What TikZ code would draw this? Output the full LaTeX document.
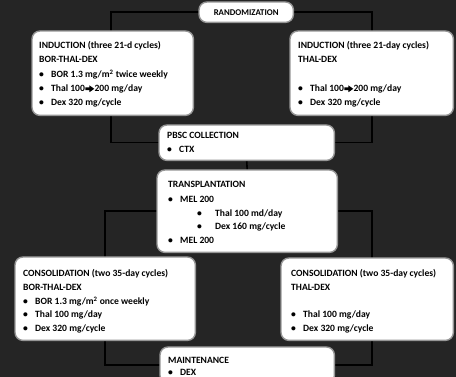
\documentclass[tikz,border=0pt]{standalone}
\usepackage{fontspec}
\setmainfont{Carlito}[BoldFont={Carlito Bold}]
\definecolor{bg}{RGB}{37,37,37}
\definecolor{edge}{RGB}{150,150,150}
\newcommand\bl[1]{\makebox[12pt][l]{•}#1}
\newcommand\sbl[1]{\makebox[18pt][l]{•}#1}
\newcommand\arr{\kern0.3pt\tikz[x=1pt,y=1pt,baseline=0pt]\fill[black] (0,1.9) -- (4.2,1.9) -- (4.2,-0.2) -- (9,3.2) -- (4.2,6.6) -- (4.2,4.5) -- (0,4.5) -- cycle;\kern0.3pt}
\begin{document}
\begin{tikzpicture}[x=1pt,y=-1pt,
  box/.style={draw=none, fill=none, anchor=north west, inner sep=0pt},
  panel/.style={draw=edge, line width=1.4pt, fill=white, rounded corners=8pt},
  txt/.style={anchor=base west, inner sep=0pt, font=\fontsize{9.6}{11}\selectfont\bfseries, text=black},
  link/.style={draw=black, line width=1.6pt}]
\useasboundingbox (0,0) rectangle (456,377);
\fill[bg] (0,0) rectangle (456,377);
\clip (0,0) rectangle (456,377);

% box placeholders (names)
\path node[box, minimum width=94pt, minimum height=20pt] (rand) at (199,2) {}
      node[box, minimum width=161pt, minimum height=84pt] (ind1) at (32,31) {}
      node[box, minimum width=163pt, minimum height=84pt] (ind2) at (290,31) {}
      node[box, minimum width=175pt, minimum height=35pt] (pbsc) at (159,125) {}
      node[box, minimum width=180pt, minimum height=82pt] (trans) at (157,170) {}
      node[box, minimum width=180pt, minimum height=83pt] (cons1) at (15,257) {}
      node[box, minimum width=172pt, minimum height=82pt] (cons2) at (281,258) {}
      node[box, minimum width=174pt, minimum height=36pt] (maint) at (160,347) {};

% connectors
\draw[link] (rand.west) -| ([xshift=-2pt]ind1.north);
\draw[link] (rand.east) -| (ind2.north);
\draw[link] ([xshift=-2pt]ind1.south) |- (pbsc.west);
\draw[link] (ind2.south) |- (pbsc.east);
\draw[link] (pbsc.south) -- (trans.north);
\draw[link] (trans.west) -| (cons1.north);
\draw[link] (trans.east) -| ([xshift=5pt]cons2.north);
\draw[link] (cons1.south) |- (maint.west);
\draw[link] ([xshift=5pt]cons2.south) |- (maint.east);

% visible boxes
\foreach \n in {rand,ind1,ind2,pbsc,trans,cons1,cons2,maint}{
  \draw[panel] (\n.north west) rectangle (\n.south east);
}

% texts
\node[txt, anchor=center, font=\fontsize{8.8}{10}\selectfont\bfseries] (trand) at (rand.center) {RANDOMIZATION};

\node[txt] (i1a) at (39,49) {INDUCTION (three 21-d cycles)};
\node[txt] (i1b) at (39,63) {BOR-THAL-DEX};
\node[txt] (i1c) at (39,78) {\bl{BOR 1.3 mg/m\textsuperscript{2} twice weekly}};
\node[txt] (i1d) at (39,92) {\bl{Thal 100\arr200 mg/day}};
\node[txt] (i1e) at (39,106) {\bl{Dex 320 mg/cycle}};

\node[txt] (i2a) at (298,49) {INDUCTION (three 21-day cycles)};
\node[txt] (i2b) at (298,63) {THAL-DEX};
\node[txt] (i2d) at (298,92) {\bl{Thal 100\arr200 mg/day}};
\node[txt] (i2e) at (298,106) {\bl{Dex 320 mg/cycle}};

\node[txt] (pa) at (167,139) {PBSC COLLECTION};
\node[txt] (pb) at (167,153) {\bl{CTX}};

\node[txt] (ta) at (168,188) {TRANSPLANTATION};
\node[txt] (tb) at (168,203) {\bl{MEL 200}};
\node[txt] (tc) at (197,217) {\sbl{Thal 100 md/day}};
\node[txt] (td) at (197,230) {\sbl{Dex 160 mg/cycle}};
\node[txt] (te) at (168,244) {\bl{MEL 200}};

\node[txt] (c1a) at (23,277) {CONSOLIDATION (two 35-day cycles)};
\node[txt] (c1b) at (23,291) {BOR-THAL-DEX};
\node[txt] (c1c) at (23,305) {\bl{BOR 1.3 mg/m\textsuperscript{2} once weekly}};
\node[txt] (c1d) at (23,318) {\bl{Thal 100 mg/day}};
\node[txt] (c1e) at (23,332) {\bl{Dex 320 mg/cycle}};

\node[txt] (c2a) at (291,277) {CONSOLIDATION (two 35-day cycles)};
\node[txt] (c2b) at (291,291) {THAL-DEX};
\node[txt] (c2d) at (291,318) {\bl{Thal 100 mg/day}};
\node[txt] (c2e) at (291,332) {\bl{Dex 320 mg/cycle}};

\node[txt] (ma) at (168,363) {MAINTENANCE};
\node[txt] (mb) at (168,375) {\bl{DEX}};
\end{tikzpicture}
\end{document}
